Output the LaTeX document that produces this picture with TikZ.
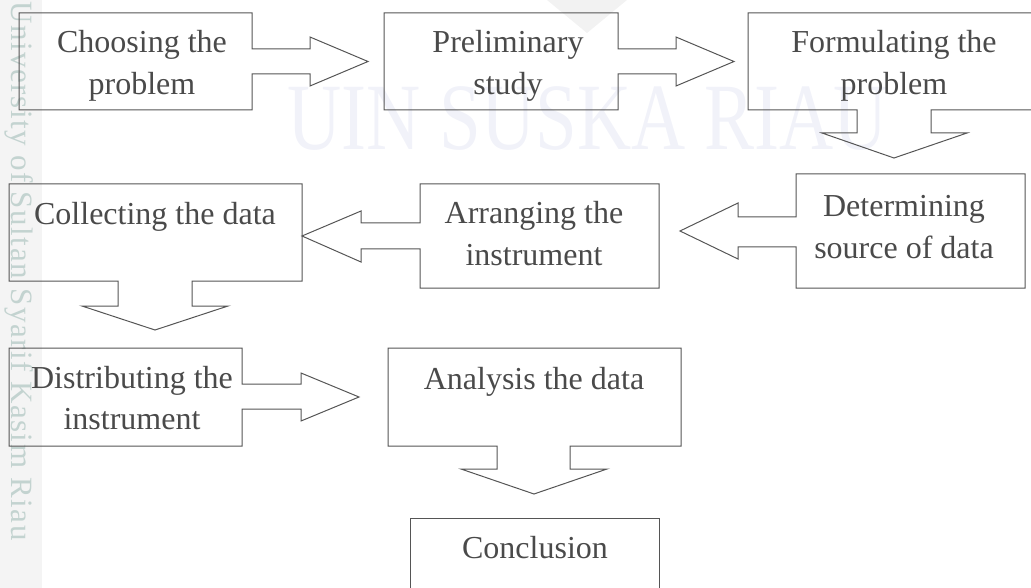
\documentclass[tikz,border=0pt]{standalone}
\usepackage{fontspec}
\setmainfont{Liberation Serif}
\newfontfamily\wideserif[LetterSpace=5]{Liberation Serif}
\usetikzlibrary{calc}
\newcommand\twoline[2]{\begin{tabular}[t]{@{}c@{}}#1\\#2\end{tabular}}
\definecolor{txt}{HTML}{4A4A4A}
\definecolor{edge}{HTML}{555555}
\definecolor{wmark}{HTML}{F1F2F9}
\definecolor{stripe}{HTML}{F4F4F4}
\definecolor{vtext}{HTML}{C3D3D0}
\definecolor{logo}{HTML}{F2F2F2}
\begin{document}
\begin{tikzpicture}[x=1pt,y=-1pt,
  geom/.style={rectangle, draw=none, inner sep=0pt, outer sep=0pt},
  outline/.style={draw=edge, line width=1pt, line join=miter},
  lbl/.style={inner sep=0pt, outer sep=0pt, text=txt, font=\fontsize{32}{41.5}\selectfont, anchor=base}]
\useasboundingbox (0,0) rectangle (1031,588);
% background watermark
\fill[stripe] (0,0) rectangle (42,588);
\fill[logo] (547,0) -- (627,0) -- (587,33) -- cycle;
\node[inner sep=0pt, text=wmark, font=\fontsize{95}{95}\selectfont, xscale=0.79, anchor=base] (wm) at (588,150) {UIN SUSKA RIAU};
\node[inner sep=0pt, text=vtext, font=\wideserif\fontsize{31}{31}\selectfont, rotate=-90, anchor=base west] (wv) at (12,1) {University of Sultan Syarif Kasim Riau};
% geometry of boxes
\node[geom, minimum width=233, minimum height=97] (b1) at (135.5,61.5) {};
\node[geom, minimum width=234, minimum height=97] (b2) at (501,61.5) {};
\node[geom, minimum width=288, minimum height=97] (b3) at (892,61.5) {};
\node[geom, minimum width=229, minimum height=114] (b4) at (910.5,231) {};
\node[geom, minimum width=239, minimum height=104] (b5) at (539.5,236) {};
\node[geom, minimum width=293, minimum height=97] (b6) at (155.5,232.5) {};
\node[geom, minimum width=233, minimum height=98] (b7) at (125.5,397) {};
\node[geom, minimum width=293, minimum height=98] (b8) at (534.5,397) {};
\node[geom, minimum width=249, minimum height=77] (b9) at (534.5,556.5) {};
% outlines: box merged with its outgoing block arrow
\draw[outline] (b1.north west) -- (b1.north east) -- (b1.east |- 0,49) -- (310,49) -- (310,37)
  -- ([xshift=-16pt]b2.west) -- (310,86) -- (310,74) -- (b1.east |- 0,74) -- (b1.south east) -- (b1.south west) -- cycle;
\draw[outline] (b2.north west) -- (b2.north east) -- (b2.east |- 0,49) -- (676,49) -- (676,37)
  -- ([xshift=-14pt]b3.west) -- (676,86) -- (676,74) -- (b2.east |- 0,74) -- (b2.south east) -- (b2.south west) -- cycle;
\draw[outline] (b3.south west) -- (b3.north west) -- (b3.north east) -- (b3.south east) -- (931,110) -- (931,133) -- (967,133)
  -- (894,158) -- (822,133) -- (857,133) -- (857,110) -- cycle;
\draw[outline] (b4.north west) -- (b4.north east) -- (b4.south east) -- (b4.south west) -- (b4.west |- 0,247) -- (738,247) -- (738,259)
  -- (680,231) -- (738,203) -- (738,217) -- (b4.west |- 0,217) -- cycle;
\draw[outline] (b5.north west) -- (b5.north east) -- (b5.south east) -- (b5.south west) -- (b5.west |- 0,249) -- (361,249) -- (361,262)
  -- (b6.east |- 0,236) -- (361,211) -- (361,223) -- (b5.west |- 0,223) -- cycle;
\draw[outline] (b6.north west) -- (b6.north east) -- (b6.south east) -- (192,281) -- (192,306) -- (228,306)
  -- (155,330) -- (82,306) -- (118,306) -- (118,281) -- (b6.south west) -- cycle;
\draw[outline] (b7.north west) -- (b7.north east) -- (b7.east |- 0,384) -- (301,384) -- (301,373)
  -- (359,397) -- (301,421) -- (301,409) -- (b7.east |- 0,409) -- (b7.south east) -- (b7.south west) -- cycle;
\draw[outline] (b8.north west) -- (b8.north east) -- (b8.south east) -- (570,446) -- (570,469) -- (607,469)
  -- (534,494) -- (461,469) -- (497,469) -- (497,446) -- (b8.south west) -- cycle;
\draw[outline] (b9.north west) rectangle (b9.south east);
% labels
\node[lbl] (t1) at (142,53) {\twoline{Choosing the}{problem}};
\node[lbl] (t2) at (508,53) {\twoline{Preliminary}{study}};
\node[lbl] (t3) at (894,53) {\twoline{Formulating the}{problem}};
\node[lbl] (t4) at (904,217) {\twoline{Determining}{source of data}};
\node[lbl] (t5) at (534,224) {\twoline{Arranging the}{instrument}};
\node[lbl] (t6) at (155,225) {Collecting the data};
\node[lbl] (t7) at (132,388) {\twoline{Distributing the}{instrument}};
\node[lbl] (t8) at (534,389) {Analysis the data};
\node[lbl] (t9) at (535,558) {Conclusion};
\end{tikzpicture}
\end{document}
